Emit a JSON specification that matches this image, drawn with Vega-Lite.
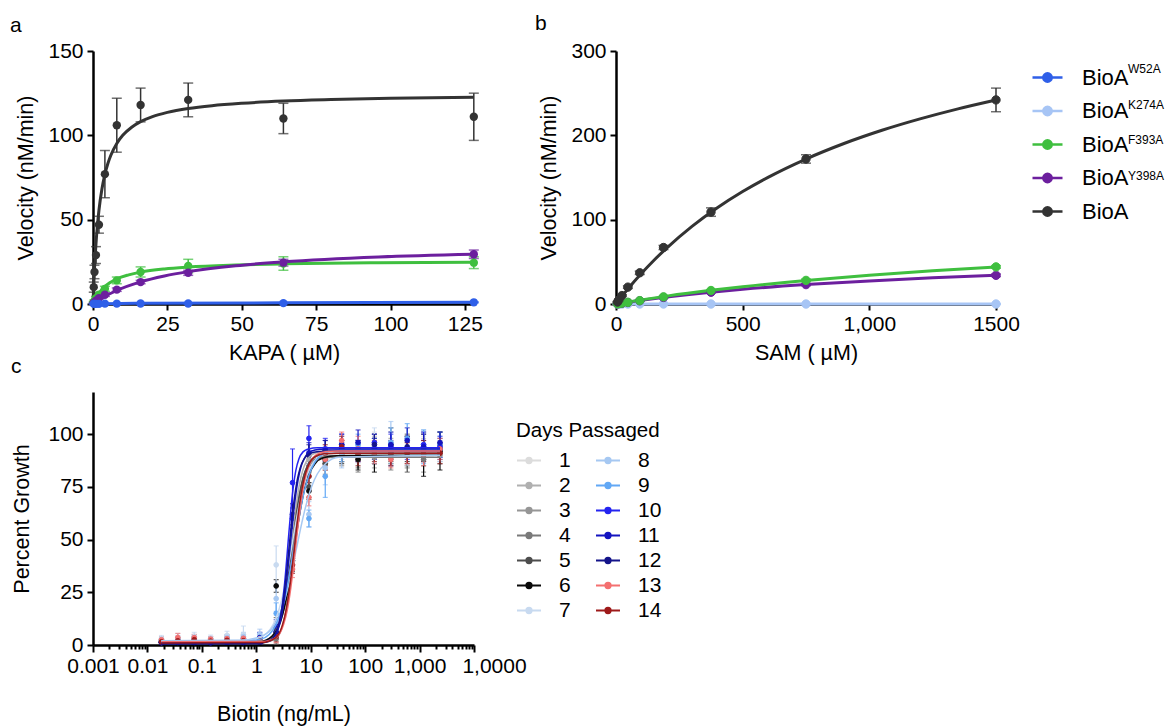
{
"$schema": "https://vega.github.io/schema/vega-lite/v6.json",
"padding": {"left": 10, "top": 13, "right": 0, "bottom": 2},
"background": "white",
"config": {
  "font": "Liberation Sans",
  "view": {"stroke": null},
  "axis": {"domainColor": "black", "domainWidth": 2.5, "tickColor": "black", "tickWidth": 2, "tickSize": 6, "labelFontSize": 21, "labelColor": "black", "labelPadding": 3, "titleFontSize": 21.5, "titleFontWeight": "normal", "titleColor": "black", "grid": false, "labelFlush": false, "labelOverlap": false},
  "title": {"fontSize": 21, "fontWeight": "normal", "color": "black", "anchor": "start", "frame": "group", "baseline": "alphabetic"}
},
"datasets": {
  "ptsA": [
    {"enz":"BioA","x":0.25,"y":10,"e":3},{"enz":"BioA","x":0.5,"y":19,"e":4},{"enz":"BioA","x":1,"y":29,"e":5},{"enz":"BioA","x":2,"y":47,"e":5},{"enz":"BioA","x":4,"y":77,"e":14},{"enz":"BioA","x":8,"y":106,"e":16},{"enz":"BioA","x":16,"y":118,"e":10},{"enz":"BioA","x":32,"y":121,"e":10},{"enz":"BioA","x":64,"y":110,"e":9},{"enz":"BioA","x":128,"y":111,"e":14},
    {"enz":"F393A","x":0.25,"y":1,"e":0.5},{"enz":"F393A","x":0.5,"y":2,"e":0.5},{"enz":"F393A","x":1,"y":3.5,"e":1},{"enz":"F393A","x":2,"y":5.5,"e":1},{"enz":"F393A","x":4,"y":9,"e":1.5},{"enz":"F393A","x":8,"y":14,"e":2},{"enz":"F393A","x":16,"y":19,"e":3},{"enz":"F393A","x":32,"y":22.5,"e":4},{"enz":"F393A","x":64,"y":24,"e":4},{"enz":"F393A","x":128,"y":24.5,"e":3.5},
    {"enz":"Y398A","x":0.25,"y":0.5,"e":0.3},{"enz":"Y398A","x":0.5,"y":1,"e":0.3},{"enz":"Y398A","x":1,"y":2,"e":0.5},{"enz":"Y398A","x":2,"y":3.5,"e":0.5},{"enz":"Y398A","x":4,"y":5.5,"e":1},{"enz":"Y398A","x":8,"y":8.5,"e":1},{"enz":"Y398A","x":16,"y":13,"e":1},{"enz":"Y398A","x":32,"y":18.5,"e":1.5},{"enz":"Y398A","x":64,"y":24.5,"e":2},{"enz":"Y398A","x":128,"y":29.5,"e":2.5},
    {"enz":"W52A","x":0.25,"y":0.1,"e":0.1},{"enz":"W52A","x":0.5,"y":0.1,"e":0.1},{"enz":"W52A","x":1,"y":0.1,"e":0.1},{"enz":"W52A","x":2,"y":0.1,"e":0.1},{"enz":"W52A","x":4,"y":0.2,"e":0.1},{"enz":"W52A","x":8,"y":0.2,"e":0.1},{"enz":"W52A","x":16,"y":0.3,"e":0.1},{"enz":"W52A","x":32,"y":0.3,"e":0.1},{"enz":"W52A","x":64,"y":0.5,"e":0.2},{"enz":"W52A","x":128,"y":1.0,"e":0.3}
  ],
  "curA": [
    {"enz":"BioA","x":0,"y":0},{"enz":"BioA","x":0.25,"y":11.4},{"enz":"BioA","x":0.5,"y":20.8},{"enz":"BioA","x":1,"y":35.7},{"enz":"BioA","x":1.5,"y":46.9},{"enz":"BioA","x":2,"y":55.6},{"enz":"BioA","x":3,"y":68.2},{"enz":"BioA","x":4,"y":76.9},{"enz":"BioA","x":5,"y":83.3},{"enz":"BioA","x":6,"y":88.2},{"enz":"BioA","x":8,"y":95.2},{"enz":"BioA","x":10,"y":100},{"enz":"BioA","x":13,"y":104.8},{"enz":"BioA","x":16,"y":108.1},{"enz":"BioA","x":20,"y":111.1},{"enz":"BioA","x":25,"y":113.6},{"enz":"BioA","x":32,"y":115.9},{"enz":"BioA","x":40,"y":117.6},{"enz":"BioA","x":50,"y":119.0},{"enz":"BioA","x":64,"y":120.3},{"enz":"BioA","x":80,"y":121.2},{"enz":"BioA","x":100,"y":122.0},{"enz":"BioA","x":128,"y":122.6},
    {"enz":"F393A","x":0,"y":0},{"enz":"F393A","x":0.5,"y":2.0},{"enz":"F393A","x":1,"y":3.7},{"enz":"F393A","x":2,"y":6.5},{"enz":"F393A","x":4,"y":10.4},{"enz":"F393A","x":8,"y":14.9},{"enz":"F393A","x":12,"y":17.3},{"enz":"F393A","x":16,"y":18.9},{"enz":"F393A","x":24,"y":20.8},{"enz":"F393A","x":32,"y":21.9},{"enz":"F393A","x":48,"y":23.1},{"enz":"F393A","x":64,"y":23.8},{"enz":"F393A","x":96,"y":24.5},{"enz":"F393A","x":128,"y":24.8},
    {"enz":"Y398A","x":0,"y":0},{"enz":"Y398A","x":1,"y":1.24},{"enz":"Y398A","x":2,"y":2.4},{"enz":"Y398A","x":4,"y":4.5},{"enz":"Y398A","x":8,"y":8.0},{"enz":"Y398A","x":16,"y":13.1},{"enz":"Y398A","x":24,"y":16.6},{"enz":"Y398A","x":32,"y":19.2},{"enz":"Y398A","x":48,"y":22.7},{"enz":"Y398A","x":64,"y":25.0},{"enz":"Y398A","x":96,"y":27.9},{"enz":"Y398A","x":128,"y":29.5},
    {"enz":"W52A","x":0,"y":0},{"enz":"W52A","x":4,"y":0.2},{"enz":"W52A","x":16,"y":0.4},{"enz":"W52A","x":64,"y":0.7},{"enz":"W52A","x":128,"y":1.0}
  ],
  "ptsB": [
    {"enz":"K274A","sup":"K274A","x":5.86,"y":0,"e":0.1},{"enz":"K274A","sup":"K274A","x":11.7,"y":0,"e":0.1},{"enz":"K274A","sup":"K274A","x":23.4,"y":0,"e":0.1},{"enz":"K274A","sup":"K274A","x":46.9,"y":0,"e":0.1},{"enz":"K274A","sup":"K274A","x":93.75,"y":0,"e":0.1},{"enz":"K274A","sup":"K274A","x":187.5,"y":0,"e":0.1},{"enz":"K274A","sup":"K274A","x":375,"y":0,"e":0.1},{"enz":"K274A","sup":"K274A","x":750,"y":0,"e":0.1},{"enz":"K274A","sup":"K274A","x":1500,"y":0,"e":0.1},
    {"enz":"Y398A","sup":"Y398A","x":5.86,"y":0.2,"e":0.1},{"enz":"Y398A","sup":"Y398A","x":11.7,"y":0.4,"e":0.1},{"enz":"Y398A","sup":"Y398A","x":23.4,"y":0.9,"e":0.2},{"enz":"Y398A","sup":"Y398A","x":46.9,"y":1.8,"e":0.3},{"enz":"Y398A","sup":"Y398A","x":93.75,"y":3.8,"e":0.5},{"enz":"Y398A","sup":"Y398A","x":187.5,"y":7.8,"e":0.7},{"enz":"Y398A","sup":"Y398A","x":375,"y":14,"e":1},{"enz":"Y398A","sup":"Y398A","x":750,"y":23,"e":1.2},{"enz":"Y398A","sup":"Y398A","x":1500,"y":34,"e":1.5},
    {"enz":"F393A","sup":"F393A","x":5.86,"y":0.2,"e":0.1},{"enz":"F393A","sup":"F393A","x":11.7,"y":0.5,"e":0.1},{"enz":"F393A","sup":"F393A","x":23.4,"y":1,"e":0.2},{"enz":"F393A","sup":"F393A","x":46.9,"y":2,"e":0.3},{"enz":"F393A","sup":"F393A","x":93.75,"y":4,"e":0.5},{"enz":"F393A","sup":"F393A","x":187.5,"y":8.5,"e":0.8},{"enz":"F393A","sup":"F393A","x":375,"y":16,"e":1},{"enz":"F393A","sup":"F393A","x":750,"y":28,"e":1.5},{"enz":"F393A","sup":"F393A","x":1500,"y":44,"e":1.5},
    {"enz":"BioA","sup":"-","x":5.86,"y":2.3,"e":0.5},{"enz":"BioA","sup":"-","x":11.7,"y":5,"e":1},{"enz":"BioA","sup":"-","x":23.4,"y":10,"e":1},{"enz":"BioA","sup":"-","x":46.9,"y":20,"e":1.5},{"enz":"BioA","sup":"-","x":93.75,"y":37,"e":2},{"enz":"BioA","sup":"-","x":187.5,"y":67,"e":2.5},{"enz":"BioA","sup":"-","x":375,"y":109,"e":5},{"enz":"BioA","sup":"-","x":750,"y":172,"e":5},{"enz":"BioA","sup":"-","x":1500,"y":242,"e":14}
  ],
  "curB": [
    {"enz":"K274A","x":0,"y":0},{"enz":"K274A","x":1500,"y":0},
    {"enz":"Y398A","x":0,"y":0},{"enz":"Y398A","x":100,"y":4.42},{"enz":"Y398A","x":200,"y":8.28},{"enz":"Y398A","x":375,"y":14.0},{"enz":"Y398A","x":500,"y":17.4},{"enz":"Y398A","x":750,"y":23.0},{"enz":"Y398A","x":1000,"y":27.4},{"enz":"Y398A","x":1250,"y":31.0},{"enz":"Y398A","x":1500,"y":34.0},
    {"enz":"F393A","x":0,"y":0},{"enz":"F393A","x":100,"y":4.89},{"enz":"F393A","x":200,"y":9.34},{"enz":"F393A","x":375,"y":16.2},{"enz":"F393A","x":500,"y":20.5},{"enz":"F393A","x":750,"y":28.0},{"enz":"F393A","x":1000,"y":34.2},{"enz":"F393A","x":1250,"y":39.5},{"enz":"F393A","x":1500,"y":44.0},
    {"enz":"BioA","x":0,"y":0},{"enz":"BioA","x":25,"y":9.67},{"enz":"BioA","x":50,"y":18.9},{"enz":"BioA","x":100,"y":36.1},{"enz":"BioA","x":150,"y":51.9},{"enz":"BioA","x":200,"y":66.3},{"enz":"BioA","x":300,"y":92.0},{"enz":"BioA","x":400,"y":114.1},{"enz":"BioA","x":500,"y":133.3},{"enz":"BioA","x":600,"y":150.2},{"enz":"BioA","x":750,"y":171.9},{"enz":"BioA","x":900,"y":190.3},{"enz":"BioA","x":1050,"y":206.0},{"enz":"BioA","x":1200,"y":219.5},{"enz":"BioA","x":1350,"y":231.4},{"enz":"BioA","x":1500,"y":241.9}
  ],
  "ptsC": [
    {"d":1,"x":0.0181,"y":2.5,"e":1.5},{"d":1,"x":0.0362,"y":2.8,"e":1.5},{"d":1,"x":0.0724,"y":3.2,"e":1.5},{"d":1,"x":0.145,"y":2.6,"e":1.2},{"d":1,"x":0.29,"y":2.9,"e":1.5},{"d":1,"x":0.58,"y":3.5,"e":2},{"d":1,"x":1.16,"y":3.0,"e":2},{"d":1,"x":2.32,"y":9,"e":5},{"d":1,"x":4.63,"y":45,"e":6},{"d":1,"x":9.27,"y":84,"e":5},{"d":1,"x":18.5,"y":88,"e":4},{"d":1,"x":37.1,"y":93,"e":5},{"d":1,"x":74.1,"y":91,"e":5},{"d":1,"x":148,"y":95,"e":6},{"d":1,"x":297,"y":92,"e":5},{"d":1,"x":593,"y":90,"e":6},{"d":1,"x":1186,"y":94,"e":5},{"d":1,"x":2372,"y":92,"e":5},
    {"d":2,"x":0.0181,"y":2.2,"e":1},{"d":2,"x":0.0362,"y":2.5,"e":1.2},{"d":2,"x":0.0724,"y":3.0,"e":1.4},{"d":2,"x":0.145,"y":2.8,"e":1.2},{"d":2,"x":0.29,"y":3.4,"e":1.5},{"d":2,"x":0.58,"y":3.0,"e":1.5},{"d":2,"x":1.16,"y":2.5,"e":1.5},{"d":2,"x":2.32,"y":7,"e":4},{"d":2,"x":4.63,"y":52,"e":5},{"d":2,"x":9.27,"y":88,"e":5},{"d":2,"x":18.5,"y":90,"e":4},{"d":2,"x":37.1,"y":92,"e":5},{"d":2,"x":74.1,"y":90,"e":5},{"d":2,"x":148,"y":93,"e":6},{"d":2,"x":297,"y":94,"e":7},{"d":2,"x":593,"y":91,"e":6},{"d":2,"x":1186,"y":93,"e":5},{"d":2,"x":2372,"y":92,"e":5},
    {"d":3,"x":0.0181,"y":1.5,"e":1},{"d":3,"x":0.0362,"y":1.8,"e":1},{"d":3,"x":0.0724,"y":2.0,"e":1.2},{"d":3,"x":0.145,"y":1.6,"e":1},{"d":3,"x":0.29,"y":2.2,"e":1.3},{"d":3,"x":0.58,"y":1.8,"e":1.2},{"d":3,"x":1.16,"y":1.7,"e":1.2},{"d":3,"x":2.32,"y":6,"e":4},{"d":3,"x":4.63,"y":44,"e":5},{"d":3,"x":9.27,"y":82,"e":5},{"d":3,"x":18.5,"y":88,"e":4},{"d":3,"x":37.1,"y":91,"e":4},{"d":3,"x":74.1,"y":92,"e":5},{"d":3,"x":148,"y":89,"e":5},{"d":3,"x":297,"y":93,"e":5},{"d":3,"x":593,"y":90,"e":6},{"d":3,"x":1186,"y":92,"e":5},{"d":3,"x":2372,"y":90,"e":4},
    {"d":4,"x":0.0181,"y":1.2,"e":0.8},{"d":4,"x":0.0362,"y":1.4,"e":1},{"d":4,"x":0.0724,"y":1.6,"e":1},{"d":4,"x":0.145,"y":1.3,"e":0.8},{"d":4,"x":0.29,"y":1.8,"e":1.2},{"d":4,"x":0.58,"y":1.5,"e":1},{"d":4,"x":1.16,"y":1.5,"e":1},{"d":4,"x":2.32,"y":3,"e":2.5},{"d":4,"x":4.63,"y":41,"e":5},{"d":4,"x":9.27,"y":80,"e":6},{"d":4,"x":18.5,"y":86,"e":5},{"d":4,"x":37.1,"y":90,"e":5},{"d":4,"x":74.1,"y":88,"e":6},{"d":4,"x":148,"y":91,"e":5},{"d":4,"x":297,"y":89,"e":6},{"d":4,"x":593,"y":92,"e":7},{"d":4,"x":1186,"y":88,"e":6},{"d":4,"x":2372,"y":91,"e":5},
    {"d":5,"x":0.0181,"y":1.5,"e":1},{"d":5,"x":0.0362,"y":1.7,"e":1},{"d":5,"x":0.0724,"y":1.8,"e":1},{"d":5,"x":0.145,"y":1.4,"e":1},{"d":5,"x":0.29,"y":2.5,"e":1.5},{"d":5,"x":0.58,"y":1.9,"e":1.2},{"d":5,"x":1.16,"y":1.6,"e":1.2},{"d":5,"x":2.32,"y":8,"e":5},{"d":5,"x":4.63,"y":48,"e":4},{"d":5,"x":9.27,"y":75,"e":5},{"d":5,"x":18.5,"y":86,"e":6},{"d":5,"x":37.1,"y":92,"e":5},{"d":5,"x":74.1,"y":90,"e":6},{"d":5,"x":148,"y":93,"e":7},{"d":5,"x":297,"y":95,"e":8},{"d":5,"x":593,"y":91,"e":9},{"d":5,"x":1186,"y":93,"e":8},{"d":5,"x":2372,"y":95,"e":6},
    {"d":6,"x":0.0181,"y":1.2,"e":0.8},{"d":6,"x":0.0362,"y":1.4,"e":0.8},{"d":6,"x":0.0724,"y":1.5,"e":1},{"d":6,"x":0.145,"y":1.3,"e":0.8},{"d":6,"x":0.29,"y":1.8,"e":1.2},{"d":6,"x":0.58,"y":1.5,"e":1},{"d":6,"x":1.16,"y":1.4,"e":1},{"d":6,"x":2.32,"y":28,"e":3},{"d":6,"x":4.63,"y":40,"e":5},{"d":6,"x":9.27,"y":73,"e":4},{"d":6,"x":18.5,"y":88,"e":5},{"d":6,"x":37.1,"y":91,"e":5},{"d":6,"x":74.1,"y":88,"e":5},{"d":6,"x":148,"y":90,"e":8},{"d":6,"x":297,"y":91,"e":5},{"d":6,"x":593,"y":93,"e":6},{"d":6,"x":1186,"y":90,"e":10},{"d":6,"x":2372,"y":92,"e":9},
    {"d":7,"x":0.0181,"y":3.0,"e":1.5},{"d":7,"x":0.0362,"y":3.5,"e":2},{"d":7,"x":0.0724,"y":4.0,"e":2},{"d":7,"x":0.145,"y":3.2,"e":1.5},{"d":7,"x":0.29,"y":4.5,"e":2},{"d":7,"x":0.58,"y":5.0,"e":4},{"d":7,"x":1.16,"y":4.0,"e":2},{"d":7,"x":2.32,"y":38,"e":9},{"d":7,"x":4.63,"y":50,"e":6},{"d":7,"x":9.27,"y":80,"e":6},{"d":7,"x":18.5,"y":90,"e":5},{"d":7,"x":37.1,"y":94,"e":6},{"d":7,"x":74.1,"y":92,"e":5},{"d":7,"x":148,"y":96,"e":7},{"d":7,"x":297,"y":93,"e":8},{"d":7,"x":593,"y":90,"e":5},{"d":7,"x":1186,"y":95,"e":6},{"d":7,"x":2372,"y":93,"e":5},
    {"d":8,"x":0.0181,"y":2.5,"e":1.2},{"d":8,"x":0.0362,"y":3.0,"e":1.5},{"d":8,"x":0.0724,"y":3.5,"e":1.5},{"d":8,"x":0.145,"y":2.8,"e":1.2},{"d":8,"x":0.29,"y":3.5,"e":1.5},{"d":8,"x":0.58,"y":4.0,"e":2},{"d":8,"x":1.16,"y":5.0,"e":2.5},{"d":8,"x":2.32,"y":22,"e":6},{"d":8,"x":4.63,"y":40,"e":6},{"d":8,"x":9.27,"y":62,"e":6},{"d":8,"x":18.5,"y":84,"e":8},{"d":8,"x":37.1,"y":90,"e":6},{"d":8,"x":74.1,"y":92,"e":5},{"d":8,"x":148,"y":94,"e":6},{"d":8,"x":297,"y":96,"e":10},{"d":8,"x":593,"y":92,"e":6},{"d":8,"x":1186,"y":95,"e":7},{"d":8,"x":2372,"y":93,"e":6},
    {"d":9,"x":0.0181,"y":2.0,"e":1},{"d":9,"x":0.0362,"y":2.2,"e":1},{"d":9,"x":0.0724,"y":2.5,"e":1.2},{"d":9,"x":0.145,"y":2.0,"e":1},{"d":9,"x":0.29,"y":2.8,"e":1.4},{"d":9,"x":0.58,"y":3.0,"e":1.5},{"d":9,"x":1.16,"y":3.5,"e":2},{"d":9,"x":2.32,"y":15,"e":5},{"d":9,"x":4.63,"y":45,"e":5},{"d":9,"x":9.27,"y":60,"e":4},{"d":9,"x":18.5,"y":80,"e":10},{"d":9,"x":37.1,"y":93,"e":6},{"d":9,"x":74.1,"y":95,"e":5},{"d":9,"x":148,"y":92,"e":6},{"d":9,"x":297,"y":96,"e":7},{"d":9,"x":593,"y":98,"e":7},{"d":9,"x":1186,"y":94,"e":8},{"d":9,"x":2372,"y":95,"e":6},
    {"d":10,"x":0.0181,"y":1.2,"e":0.8},{"d":10,"x":0.0362,"y":1.5,"e":1},{"d":10,"x":0.0724,"y":1.6,"e":1},{"d":10,"x":0.145,"y":1.3,"e":0.8},{"d":10,"x":0.29,"y":1.8,"e":1.2},{"d":10,"x":0.58,"y":1.5,"e":1},{"d":10,"x":1.16,"y":2.0,"e":1.5},{"d":10,"x":2.32,"y":6,"e":3},{"d":10,"x":4.63,"y":77,"e":16},{"d":10,"x":9.27,"y":98,"e":6},{"d":10,"x":18.5,"y":93,"e":5},{"d":10,"x":37.1,"y":95,"e":5},{"d":10,"x":74.1,"y":92,"e":5},{"d":10,"x":148,"y":96,"e":4},{"d":10,"x":297,"y":94,"e":6},{"d":10,"x":593,"y":93,"e":5},{"d":10,"x":1186,"y":95,"e":6},{"d":10,"x":2372,"y":94,"e":5},
    {"d":11,"x":0.0181,"y":1.3,"e":0.8},{"d":11,"x":0.0362,"y":1.6,"e":1},{"d":11,"x":0.0724,"y":1.5,"e":1},{"d":11,"x":0.145,"y":1.4,"e":0.8},{"d":11,"x":0.29,"y":1.9,"e":1.2},{"d":11,"x":0.58,"y":1.6,"e":1},{"d":11,"x":1.16,"y":3.5,"e":2.5},{"d":11,"x":2.32,"y":9,"e":3},{"d":11,"x":4.63,"y":60,"e":5},{"d":11,"x":9.27,"y":91,"e":5},{"d":11,"x":18.5,"y":92,"e":5},{"d":11,"x":37.1,"y":95,"e":5},{"d":11,"x":74.1,"y":96,"e":6},{"d":11,"x":148,"y":93,"e":5},{"d":11,"x":297,"y":95,"e":6},{"d":11,"x":593,"y":97,"e":6},{"d":11,"x":1186,"y":94,"e":6},{"d":11,"x":2372,"y":96,"e":5},
    {"d":12,"x":0.0181,"y":1.0,"e":0.6},{"d":12,"x":0.0362,"y":1.2,"e":0.8},{"d":12,"x":0.0724,"y":1.2,"e":0.8},{"d":12,"x":0.145,"y":1.0,"e":0.6},{"d":12,"x":0.29,"y":1.3,"e":1},{"d":12,"x":0.58,"y":1.2,"e":0.8},{"d":12,"x":1.16,"y":1.5,"e":1.2},{"d":12,"x":2.32,"y":6,"e":3},{"d":12,"x":4.63,"y":62,"e":5},{"d":12,"x":9.27,"y":90,"e":5},{"d":12,"x":18.5,"y":92,"e":5},{"d":12,"x":37.1,"y":93,"e":4},{"d":12,"x":74.1,"y":92,"e":5},{"d":12,"x":148,"y":95,"e":5},{"d":12,"x":297,"y":91,"e":6},{"d":12,"x":593,"y":94,"e":5},{"d":12,"x":1186,"y":92,"e":5},{"d":12,"x":2372,"y":93,"e":5},
    {"d":13,"x":0.0181,"y":2.5,"e":1.2},{"d":13,"x":0.0362,"y":3.5,"e":2},{"d":13,"x":0.0724,"y":3.5,"e":1.5},{"d":13,"x":0.145,"y":2.8,"e":1.2},{"d":13,"x":0.29,"y":3.0,"e":1.5},{"d":13,"x":0.58,"y":3.2,"e":1.5},{"d":13,"x":1.16,"y":3.0,"e":1.5},{"d":13,"x":2.32,"y":4,"e":3},{"d":13,"x":4.63,"y":36,"e":4},{"d":13,"x":9.27,"y":70,"e":4},{"d":13,"x":18.5,"y":88,"e":5},{"d":13,"x":37.1,"y":97,"e":4},{"d":13,"x":74.1,"y":93,"e":6},{"d":13,"x":148,"y":91,"e":5},{"d":13,"x":297,"y":88,"e":4},{"d":13,"x":593,"y":92,"e":6},{"d":13,"x":1186,"y":90,"e":5},{"d":13,"x":2372,"y":93,"e":5},
    {"d":14,"x":0.0181,"y":1.5,"e":1},{"d":14,"x":0.0362,"y":2.0,"e":1.2},{"d":14,"x":0.0724,"y":2.5,"e":1.5},{"d":14,"x":0.145,"y":1.8,"e":1},{"d":14,"x":0.29,"y":2.2,"e":1.2},{"d":14,"x":0.58,"y":2.0,"e":1.2},{"d":14,"x":1.16,"y":2.2,"e":1.2},{"d":14,"x":2.32,"y":4,"e":2.5},{"d":14,"x":4.63,"y":38,"e":4},{"d":14,"x":9.27,"y":80,"e":5},{"d":14,"x":18.5,"y":90,"e":5},{"d":14,"x":37.1,"y":94,"e":5},{"d":14,"x":74.1,"y":90,"e":5},{"d":14,"x":148,"y":92,"e":5},{"d":14,"x":297,"y":90,"e":5},{"d":14,"x":593,"y":91,"e":5},{"d":14,"x":1186,"y":92,"e":5},{"d":14,"x":2372,"y":91,"e":5}
  ],
  "curC": [
    {"d":1,"x":0.0181,"y":1.5},{"d":1,"x":1.15,"y":1.85},{"d":1,"x":2.07,"y":5.0},{"d":1,"x":2.76,"y":11.8},{"d":1,"x":3.22,"y":18.8},{"d":1,"x":3.68,"y":27.5},{"d":1,"x":4.14,"y":37.0},{"d":1,"x":4.6,"y":46.3},{"d":1,"x":5.15,"y":56.2},{"d":1,"x":5.75,"y":65.0},{"d":1,"x":6.44,"y":72.5},{"d":1,"x":7.36,"y":79.2},{"d":1,"x":8.74,"y":84.6},{"d":1,"x":11.04,"y":88.4},{"d":1,"x":16.1,"y":90.4},{"d":1,"x":27.6,"y":90.9},{"d":1,"x":2372,"y":91},
    {"d":2,"x":0.0181,"y":1.5},{"d":2,"x":1.1,"y":1.7},{"d":2,"x":1.98,"y":3.9},{"d":2,"x":2.64,"y":9.8},{"d":2,"x":3.08,"y":16.6},{"d":2,"x":3.52,"y":25.8},{"d":2,"x":3.96,"y":36.2},{"d":2,"x":4.4,"y":46.8},{"d":2,"x":4.93,"y":58.0},{"d":2,"x":5.5,"y":67.7},{"d":2,"x":6.16,"y":75.7},{"d":2,"x":7.04,"y":82.3},{"d":2,"x":8.36,"y":87.2},{"d":2,"x":10.56,"y":90.3},{"d":2,"x":15.4,"y":91.7},{"d":2,"x":26.4,"y":92.0},{"d":2,"x":2372,"y":92},
    {"d":3,"x":0.0181,"y":1},{"d":3,"x":1.18,"y":1.3},{"d":3,"x":2.12,"y":4.5},{"d":3,"x":2.82,"y":11.2},{"d":3,"x":3.29,"y":18.2},{"d":3,"x":3.76,"y":26.9},{"d":3,"x":4.23,"y":36.3},{"d":3,"x":4.7,"y":45.5},{"d":3,"x":5.26,"y":55.4},{"d":3,"x":5.88,"y":64.1},{"d":3,"x":6.58,"y":71.6},{"d":3,"x":7.52,"y":78.2},{"d":3,"x":8.93,"y":83.7},{"d":3,"x":11.28,"y":87.4},{"d":3,"x":16.45,"y":89.4},{"d":3,"x":28.2,"y":89.9},{"d":3,"x":2372,"y":90},
    {"d":4,"x":0.0181,"y":1},{"d":4,"x":1.2,"y":1.1},{"d":4,"x":2.16,"y":2.6},{"d":4,"x":2.88,"y":7.4},{"d":4,"x":3.36,"y":13.7},{"d":4,"x":3.84,"y":22.7},{"d":4,"x":4.32,"y":33.7},{"d":4,"x":4.8,"y":45},{"d":4,"x":5.38,"y":57.1},{"d":4,"x":6.0,"y":67.3},{"d":4,"x":6.72,"y":75.2},{"d":4,"x":7.68,"y":81.3},{"d":4,"x":9.12,"y":85.6},{"d":4,"x":11.52,"y":87.9},{"d":4,"x":16.8,"y":88.8},{"d":4,"x":28.8,"y":89},{"d":4,"x":2372,"y":89},
    {"d":5,"x":0.0181,"y":1},{"d":5,"x":1.13,"y":1.35},{"d":5,"x":2.03,"y":4.5},{"d":5,"x":2.7,"y":11.3},{"d":5,"x":3.15,"y":18.4},{"d":5,"x":3.6,"y":27.2},{"d":5,"x":4.05,"y":36.6},{"d":5,"x":4.5,"y":46},{"d":5,"x":5.04,"y":56.0},{"d":5,"x":5.63,"y":64.8},{"d":5,"x":6.3,"y":72.4},{"d":5,"x":7.2,"y":79.1},{"d":5,"x":8.55,"y":84.6},{"d":5,"x":10.8,"y":88.4},{"d":5,"x":15.75,"y":90.4},{"d":5,"x":27,"y":90.9},{"d":5,"x":2372,"y":91},
    {"d":6,"x":0.0181,"y":1},{"d":6,"x":1.25,"y":1.7},{"d":6,"x":2.25,"y":6.1},{"d":6,"x":3.0,"y":13.8},{"d":6,"x":3.5,"y":20.8},{"d":6,"x":4.0,"y":29.0},{"d":6,"x":4.5,"y":37.4},{"d":6,"x":5.0,"y":45.5},{"d":6,"x":5.6,"y":54.2},{"d":6,"x":6.25,"y":62.0},{"d":6,"x":7.0,"y":69.0},{"d":6,"x":8.0,"y":75.6},{"d":6,"x":9.5,"y":81.5},{"d":6,"x":12.0,"y":86.0},{"d":6,"x":17.5,"y":88.9},{"d":6,"x":30,"y":89.8},{"d":6,"x":2372,"y":90},
    {"d":7,"x":0.0181,"y":2},{"d":7,"x":0.5,"y":2.1},{"d":7,"x":1.13,"y":3.4},{"d":7,"x":2.03,"y":9.5},{"d":7,"x":2.7,"y":18.0},{"d":7,"x":3.15,"y":25.0},{"d":7,"x":3.6,"y":32.5},{"d":7,"x":4.05,"y":39.9},{"d":7,"x":4.5,"y":47},{"d":7,"x":5.04,"y":54.6},{"d":7,"x":5.63,"y":61.5},{"d":7,"x":6.3,"y":68.0},{"d":7,"x":7.2,"y":74.3},{"d":7,"x":8.55,"y":80.6},{"d":7,"x":10.8,"y":85.9},{"d":7,"x":15.75,"y":90.0},{"d":7,"x":27,"y":91.6},{"d":7,"x":2372,"y":92},
    {"d":8,"x":0.0181,"y":2},{"d":8,"x":0.5,"y":2.2},{"d":8,"x":1.38,"y":4.7},{"d":8,"x":2.48,"y":12.5},{"d":8,"x":3.3,"y":21.2},{"d":8,"x":3.85,"y":27.6},{"d":8,"x":4.4,"y":34.0},{"d":8,"x":4.95,"y":40.2},{"d":8,"x":5.5,"y":46},{"d":8,"x":6.16,"y":52.2},{"d":8,"x":6.88,"y":58.0},{"d":8,"x":7.7,"y":63.5},{"d":8,"x":8.8,"y":69.2},{"d":8,"x":10.45,"y":75.3},{"d":8,"x":13.2,"y":81.1},{"d":8,"x":19.25,"y":86.3},{"d":8,"x":33,"y":89.0},{"d":8,"x":2372,"y":90},
    {"d":9,"x":0.0181,"y":1.5},{"d":9,"x":0.5,"y":1.6},{"d":9,"x":1.25,"y":2.9},{"d":9,"x":2.25,"y":9.1},{"d":9,"x":3.0,"y":17.8},{"d":9,"x":3.5,"y":24.9},{"d":9,"x":4.0,"y":32.5},{"d":9,"x":4.5,"y":40.1},{"d":9,"x":5.0,"y":47.25},{"d":9,"x":5.6,"y":55.0},{"d":9,"x":6.25,"y":62.0},{"d":9,"x":7.0,"y":68.6},{"d":9,"x":8.0,"y":75.1},{"d":9,"x":9.5,"y":81.4},{"d":9,"x":12.0,"y":86.8},{"d":9,"x":17.5,"y":90.9},{"d":9,"x":30,"y":92.6},{"d":9,"x":2372,"y":93},
    {"d":10,"x":0.0181,"y":1},{"d":10,"x":0.95,"y":1.0},{"d":10,"x":1.71,"y":1.8},{"d":10,"x":2.28,"y":5.1},{"d":10,"x":2.66,"y":10.7},{"d":10,"x":3.04,"y":20.2},{"d":10,"x":3.42,"y":33.1},{"d":10,"x":3.8,"y":47.25},{"d":10,"x":4.26,"y":62.4},{"d":10,"x":4.75,"y":74.3},{"d":10,"x":5.32,"y":82.7},{"d":10,"x":6.08,"y":88.3},{"d":10,"x":7.22,"y":91.6},{"d":10,"x":9.12,"y":93.0},{"d":10,"x":13.3,"y":93.5},{"d":10,"x":22.8,"y":93.5},{"d":10,"x":2372,"y":93.5},
    {"d":11,"x":0.0181,"y":1},{"d":11,"x":1.05,"y":1.1},{"d":11,"x":1.89,"y":2.7},{"d":11,"x":2.52,"y":7.6},{"d":11,"x":2.94,"y":14.2},{"d":11,"x":3.36,"y":23.7},{"d":11,"x":3.78,"y":35.2},{"d":11,"x":4.2,"y":47},{"d":11,"x":4.7,"y":59.7},{"d":11,"x":5.25,"y":70.3},{"d":11,"x":5.88,"y":78.6},{"d":11,"x":6.72,"y":85.0},{"d":11,"x":7.98,"y":89.4},{"d":11,"x":10.08,"y":91.9},{"d":11,"x":14.7,"y":92.8},{"d":11,"x":25.2,"y":93},{"d":11,"x":2372,"y":93},
    {"d":12,"x":0.0181,"y":0.5},{"d":12,"x":1.0,"y":0.6},{"d":12,"x":1.8,"y":2.2},{"d":12,"x":2.4,"y":7.1},{"d":12,"x":2.8,"y":13.7},{"d":12,"x":3.2,"y":23.1},{"d":12,"x":3.6,"y":34.5},{"d":12,"x":4.0,"y":46.25},{"d":12,"x":4.48,"y":58.9},{"d":12,"x":5.0,"y":69.4},{"d":12,"x":5.6,"y":77.7},{"d":12,"x":6.4,"y":84.0},{"d":12,"x":7.6,"y":88.4},{"d":12,"x":9.6,"y":90.9},{"d":12,"x":14.0,"y":91.8},{"d":12,"x":24.0,"y":92},{"d":12,"x":2372,"y":92},
    {"d":13,"x":0.0181,"y":1.5},{"d":13,"x":1.33,"y":1.7},{"d":13,"x":2.39,"y":3.9},{"d":13,"x":3.18,"y":9.8},{"d":13,"x":3.71,"y":16.6},{"d":13,"x":4.24,"y":25.8},{"d":13,"x":4.77,"y":36.2},{"d":13,"x":5.3,"y":46.75},{"d":13,"x":5.94,"y":58.0},{"d":13,"x":6.63,"y":67.7},{"d":13,"x":7.42,"y":75.7},{"d":13,"x":8.48,"y":82.3},{"d":13,"x":10.07,"y":87.2},{"d":13,"x":12.72,"y":90.3},{"d":13,"x":18.55,"y":91.7},{"d":13,"x":31.8,"y":92.0},{"d":13,"x":2372,"y":92},
    {"d":14,"x":0.0181,"y":1},{"d":14,"x":1.25,"y":1.2},{"d":14,"x":2.25,"y":3.4},{"d":14,"x":3.0,"y":9.2},{"d":14,"x":3.5,"y":16.1},{"d":14,"x":4.0,"y":25.1},{"d":14,"x":4.5,"y":35.5},{"d":14,"x":5.0,"y":46},{"d":14,"x":5.6,"y":57.2},{"d":14,"x":6.25,"y":66.9},{"d":14,"x":7.0,"y":74.8},{"d":14,"x":8.0,"y":81.3},{"d":14,"x":9.5,"y":86.3},{"d":14,"x":12.0,"y":89.3},{"d":14,"x":17.5,"y":90.7},{"d":14,"x":30,"y":91},{"d":14,"x":2372,"y":91}
  ]
},
"concat": [
  {
    "width": 382, "height": 253,
    "title": {"text": "a", "dx": -83, "offset": 4},
    "encoding": {
      "x": {"field": "x", "type": "quantitative", "scale": {"domain": [0, 128.4], "nice": false, "zero": false}, "axis": {"values": [0, 25, 50, 75, 100, 125], "title": "KAPA ( µM)", "titlePadding": 8}},
      "y": {"field": "y", "type": "quantitative", "scale": {"domain": [0, 150], "nice": false}, "axis": {"values": [0, 50, 100, 150], "title": "Velocity (nM/min)", "titlePadding": 10, "labelPadding": 4}}
    },
    "layer": [
      {"data": {"name": "ptsA"}, "mark": {"type": "errorbar", "ticks": {"size": 10}, "thickness": 1.5},
       "encoding": {"yError": {"field": "e"}, "color": {"field": "enz", "type": "nominal", "scale": {"domain": ["W52A","K274A","F393A","Y398A","BioA"], "range": ["#2f5fe8","#a7c5f5","#3fbf3f","#6c1f9e","#333333"]}, "legend": null}}},
      {"data": {"name": "curA"}, "mark": {"type": "line", "strokeWidth": 3, "interpolate": "monotone"},
       "encoding": {"color": {"field": "enz", "type": "nominal", "scale": {"domain": ["W52A","K274A","F393A","Y398A","BioA"], "range": ["#2f5fe8","#a7c5f5","#3fbf3f","#6c1f9e","#333333"]}, "legend": null}}},
      {"data": {"name": "ptsA"}, "mark": {"type": "circle", "size": 70, "opacity": 1},
       "encoding": {"color": {"field": "enz", "type": "nominal", "scale": {"domain": ["W52A","K274A","F393A","Y398A","BioA"], "range": ["#2f5fe8","#a7c5f5","#3fbf3f","#6c1f9e","#333333"]}, "legend": null}}}
    ]
  },
  {
    "width": 380, "height": 253,
    "title": {"text": "b", "dx": -81, "offset": 6},
    "encoding": {
      "x": {"field": "x", "type": "quantitative", "scale": {"domain": [0, 1500], "nice": false}, "axis": {"values": [0, 500, 1000, 1500], "labelExpr": "datum.value == 1000 ? '1,000' : format(datum.value, 'd')", "title": "SAM ( µM)", "titlePadding": 8}},
      "y": {"field": "y", "type": "quantitative", "scale": {"domain": [0, 300], "nice": false}, "axis": {"values": [0, 100, 200, 300], "title": "Velocity (nM/min)", "titlePadding": 10, "labelPadding": 4}}
    },
    "layer": [
      {"data": {"name": "ptsB"}, "mark": {"type": "errorbar", "ticks": {"size": 10}, "thickness": 1.5},
       "encoding": {"yError": {"field": "e"}, "color": {"field": "enz", "type": "nominal", "scale": {"domain": ["BioA","Y398A","F393A","K274A","W52A"], "range": ["#333333","#6c1f9e","#3fbf3f","#a7c5f5","#2f5fe8"]}, "legend": null}}},
      {"data": {"name": "curB"}, "mark": {"type": "line", "strokeWidth": 3, "interpolate": "monotone"},
       "encoding": {"stroke": {"field": "enz", "type": "nominal", "scale": {"domain": ["W52A","K274A","F393A","Y398A","BioA"], "range": ["#2f5fe8","#a7c5f5","#3fbf3f","#6c1f9e","#333333"]},
         "legend": {"orient": "none", "legendX": 415, "legendY": 10, "title": null, "padding": 0, "symbolType": "M-1,0H1M-0.28,0A0.28,0.28,0,1,1,0.28,0A0.28,0.28,0,1,1,-0.28,0Z", "symbolSize": 900, "symbolStrokeWidth": 2.5, "symbolOpacity": 1, "labelFontSize": 22, "labelColor": "black", "labelOffset": 18, "rowPadding": 5.5, "labelExpr": "'BioA'"}}}},
      {"data": {"name": "ptsB"}, "mark": {"type": "point", "filled": true, "size": 70, "opacity": 1, "strokeWidth": 1},
       "encoding": {
         "fill": {"field": "enz", "type": "nominal", "scale": {"domain": ["W52A","K274A","F393A","Y398A","BioA"], "range": ["#2f5fe8","#a7c5f5","#3fbf3f","#6c1f9e","#333333"]},
           "legend": {"orient": "none", "legendX": 415, "legendY": 10, "title": null, "padding": 0, "symbolType": "M-1,0H1M-0.28,0A0.28,0.28,0,1,1,0.28,0A0.28,0.28,0,1,1,-0.28,0Z", "symbolSize": 900, "symbolStrokeWidth": 2.5, "symbolOpacity": 1, "labelFontSize": 22, "labelColor": "black", "labelOffset": 18, "rowPadding": 5.5, "labelExpr": "'BioA'"}},
         "stroke": {"field": "enz", "type": "nominal", "scale": {"domain": ["W52A","K274A","F393A","Y398A","BioA"], "range": ["#2f5fe8","#a7c5f5","#3fbf3f","#6c1f9e","#333333"]},
           "legend": {"orient": "none", "legendX": 415, "legendY": 10, "title": null, "padding": 0, "symbolType": "M-1,0H1M-0.28,0A0.28,0.28,0,1,1,0.28,0A0.28,0.28,0,1,1,-0.28,0Z", "symbolSize": 900, "symbolStrokeWidth": 2.5, "symbolOpacity": 1, "labelFontSize": 22, "labelColor": "black", "labelOffset": 18, "rowPadding": 5.5, "labelExpr": "'BioA'"}},
         "shape": {"field": "sup", "type": "nominal", "scale": {"domain": ["W52A","K274A","F393A","Y398A","-"], "range": ["circle","circle","circle","circle","circle"]},
           "legend": {"orient": "none", "legendX": 415, "legendY": 10, "title": null, "padding": 0, "symbolType": "circle", "symbolSize": 900, "symbolOpacity": 0, "symbolStrokeWidth": 0, "labelFontSize": 12, "labelColor": "black", "labelOffset": 67, "rowPadding": 5.5, "labelBaseline": "bottom", "labelExpr": "datum.value == '-' ? '' : datum.label"}}
       }}
    ]
  },
  {
    "width": 381, "height": 253,
    "title": {"text": "c", "dx": -82, "offset": 15},
    "encoding": {
      "x": {"field": "x", "type": "quantitative", "scale": {"type": "log", "domain": [0.001, 10000], "nice": false},
        "axis": {"values": [0.001,0.002,0.003,0.004,0.005,0.006,0.007,0.008,0.009,0.01,0.02,0.03,0.04,0.05,0.06,0.07,0.08,0.09,0.1,0.2,0.3,0.4,0.5,0.6,0.7,0.8,0.9,1,2,3,4,5,6,7,8,9,10,20,30,40,50,60,70,80,90,100,200,300,400,500,600,700,800,900,1000,2000,3000,4000,5000,6000,7000,8000,9000,10000],
          "labelExpr": "datum.value == 0.001 ? '0.001' : datum.value == 0.01 ? '0.01' : datum.value == 0.1 ? '0.1' : datum.value == 1 ? '1' : datum.value == 10 ? '10' : datum.value == 100 ? '100' : datum.value == 1000 ? '1,000' : datum.value == 10000 ? '1,0000' : ''",
          "tickSize": {"condition": {"test": "abs(log(datum.value)/LN10 - round(log(datum.value)/LN10)) < 0.01", "value": 7}, "value": 4},
          "labelOffset": {"condition": {"test": "datum.value == 10000", "value": 20}, "value": 0},
          "title": "Biotin (ng/mL)", "titlePadding": 27}},
      "y": {"field": "y", "type": "quantitative", "scale": {"domain": [0, 120], "nice": false}, "axis": {"values": [0, 25, 50, 75, 100], "title": "Percent Growth", "titlePadding": 14, "labelPadding": 4}}
    },
    "layer": [
      {"data": {"name": "ptsC"}, "mark": {"type": "errorbar", "ticks": {"size": 5}, "thickness": 1.2},
       "encoding": {"yError": {"field": "e"}, "color": {"field": "d", "type": "nominal", "scale": {"domain": [14,13,12,11,10,9,8,7,6,5,4,3,2,1], "range": ["#9e1a1a","#f47070","#14148a","#1414c0","#2424f0","#62a8f5","#a6c8f2","#c8daf0","#0a0a0a","#4d4d4d","#7a7a7a","#969696","#b0b0b0","#dcdcdc"]}, "legend": null}}},
      {"data": {"name": "ptsC"}, "mark": {"type": "point", "filled": true, "size": 22, "opacity": 1, "strokeWidth": 1},
       "encoding": {
         "fill": {"field": "d", "type": "nominal", "scale": {"domain": [1,2,3,4,5,6,7,8,9,10,11,12,13,14], "range": ["#dcdcdc","#b0b0b0","#969696","#7a7a7a","#4d4d4d","#0a0a0a","#c8daf0","#a6c8f2","#62a8f5","#2424f0","#1414c0","#14148a","#f47070","#9e1a1a"]},
           "legend": {"orient": "none", "legendX": 423, "legendY": 29, "title": "Days Passaged", "titleFontSize": 20.5, "titleFontWeight": "normal", "titleColor": "black", "titlePadding": 6, "columns": 2, "columnPadding": 21, "rowPadding": 2, "padding": 0, "symbolType": "M-1,0H1M-0.22,0A0.22,0.22,0,1,1,0.22,0A0.22,0.22,0,1,1,-0.22,0Z", "symbolSize": 576, "symbolStrokeWidth": 2, "symbolOpacity": 1, "labelFontSize": 21, "labelColor": "black", "labelOffset": 17}},
         "stroke": {"field": "d", "type": "nominal", "scale": {"domain": [1,2,3,4,5,6,7,8,9,10,11,12,13,14], "range": ["#dcdcdc","#b0b0b0","#969696","#7a7a7a","#4d4d4d","#0a0a0a","#c8daf0","#a6c8f2","#62a8f5","#2424f0","#1414c0","#14148a","#f47070","#9e1a1a"]},
           "legend": {"orient": "none", "legendX": 423, "legendY": 29, "title": "Days Passaged", "titleFontSize": 20.5, "titleFontWeight": "normal", "titleColor": "black", "titlePadding": 6, "columns": 2, "columnPadding": 21, "rowPadding": 2, "padding": 0, "symbolType": "M-1,0H1M-0.22,0A0.22,0.22,0,1,1,0.22,0A0.22,0.22,0,1,1,-0.22,0Z", "symbolSize": 576, "symbolStrokeWidth": 2, "symbolOpacity": 1, "labelFontSize": 21, "labelColor": "black", "labelOffset": 17}}
       }},
      {"data": {"name": "curC"}, "mark": {"type": "line", "strokeWidth": 1.5, "interpolate": "monotone"},
       "encoding": {"stroke": {"field": "d", "type": "nominal", "scale": {"domain": [1,2,3,4,5,6,7,8,9,10,11,12,13,14], "range": ["#dcdcdc","#b0b0b0","#969696","#7a7a7a","#4d4d4d","#0a0a0a","#c8daf0","#a6c8f2","#62a8f5","#2424f0","#1414c0","#14148a","#f47070","#9e1a1a"]},
         "legend": {"orient": "none", "legendX": 423, "legendY": 29, "title": "Days Passaged", "titleFontSize": 20.5, "titleFontWeight": "normal", "titleColor": "black", "titlePadding": 6, "columns": 2, "columnPadding": 21, "rowPadding": 2, "padding": 0, "symbolType": "M-1,0H1M-0.22,0A0.22,0.22,0,1,1,0.22,0A0.22,0.22,0,1,1,-0.22,0Z", "symbolSize": 576, "symbolStrokeWidth": 2, "symbolOpacity": 1, "labelFontSize": 21, "labelColor": "black", "labelOffset": 17}}}}
    ]
  }
],
"columns": 2,
"spacing": {"row": 88, "column": 141},
"bounds": "flush",
"resolve": {"scale": {"color": "independent", "fill": "independent", "stroke": "independent", "shape": "independent"}}
}
